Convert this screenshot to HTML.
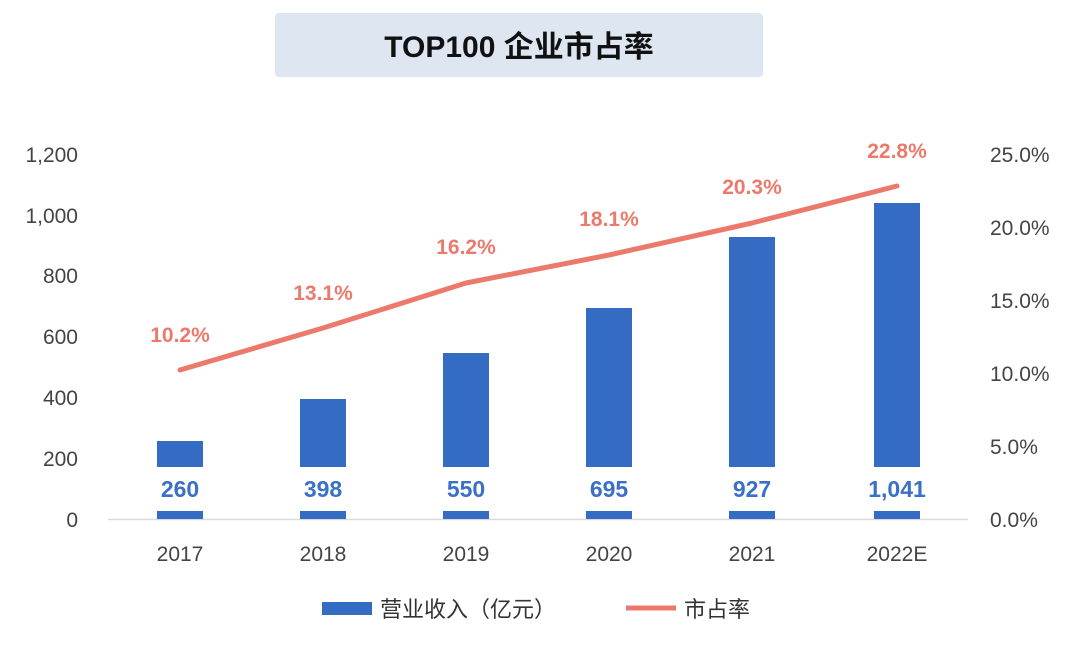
<!DOCTYPE html>
<html><head><meta charset="utf-8"><style>
body{margin:0;background:#fff;width:1080px;height:645px;overflow:hidden;font-family:"Liberation Sans","Noto Sans CJK SC",sans-serif}
</style></head><body>
<svg width="1080" height="645" xmlns="http://www.w3.org/2000/svg" style="font-family:'Liberation Sans','Noto Sans CJK SC',sans-serif">
<rect x="275" y="13" width="488" height="64" rx="4" fill="#dde6f1"/>
<text x="519" y="57" text-anchor="middle" font-size="30" font-weight="bold" fill="#111">TOP100 企业市占率</text>
<g font-size="21" fill="#444" text-anchor="end">
<text x="78" y="527">0</text><text x="78" y="466">200</text><text x="78" y="405">400</text><text x="78" y="344">600</text><text x="78" y="283">800</text><text x="78" y="223">1,000</text><text x="78" y="162">1,200</text>
</g>
<g font-size="21" fill="#444" text-anchor="start">
<text x="990" y="527">0.0%</text><text x="990" y="454">5.0%</text><text x="990" y="381">10.0%</text><text x="990" y="308">15.0%</text><text x="990" y="235">20.0%</text><text x="990" y="162">25.0%</text>
</g>
<line x1="108" y1="519.5" x2="968" y2="519.5" stroke="#d9d9d9" stroke-width="1.5"/>
<g fill="#346cc4">
<rect x="157" y="441" width="46" height="78"/>
<rect x="300" y="399" width="46" height="120"/>
<rect x="443" y="353" width="46" height="166"/>
<rect x="586" y="308" width="46" height="211"/>
<rect x="729" y="237" width="46" height="282"/>
<rect x="874" y="203" width="46" height="316"/>
</g>
<g fill="#fff">
<rect x="150" y="467" width="60" height="44"/><rect x="293" y="467" width="60" height="44"/><rect x="436" y="467" width="60" height="44"/><rect x="579" y="467" width="60" height="44"/><rect x="722" y="467" width="60" height="44"/><rect x="860" y="467" width="74" height="44"/>
</g>
<g font-size="23" font-weight="bold" fill="#3a70c6" text-anchor="middle">
<text x="180" y="497">260</text><text x="323" y="497">398</text><text x="466" y="497">550</text><text x="609" y="497">695</text><text x="752" y="497">927</text><text x="897" y="497">1,041</text>
</g>
<g font-size="21" fill="#444" text-anchor="middle">
<text x="180" y="561">2017</text><text x="323" y="561">2018</text><text x="466" y="561">2019</text><text x="609" y="561">2020</text><text x="752" y="561">2021</text><text x="897" y="561">2022E</text>
</g>
<polyline points="180,370 323,328 466,283 609,255 752,223 897,186" fill="none" stroke="#ec7a6c" stroke-width="5" stroke-linejoin="round" stroke-linecap="round"/>
<g font-size="21" font-weight="bold" fill="#ec7a6c" text-anchor="middle">
<text x="180" y="342">10.2%</text><text x="323" y="300">13.1%</text><text x="466" y="254">16.2%</text><text x="609" y="226">18.1%</text><text x="752" y="194">20.3%</text><text x="897" y="158">22.8%</text>
</g>
<rect x="322" y="602" width="50" height="13" fill="#346cc4"/>
<text x="380" y="617" font-size="22" fill="#333">营业收入（亿元）</text>
<line x1="626" y1="608" x2="676" y2="608" stroke="#ec7a6c" stroke-width="5"/>
<text x="684" y="617" font-size="22" fill="#333">市占率</text>
</svg>
</body></html>
